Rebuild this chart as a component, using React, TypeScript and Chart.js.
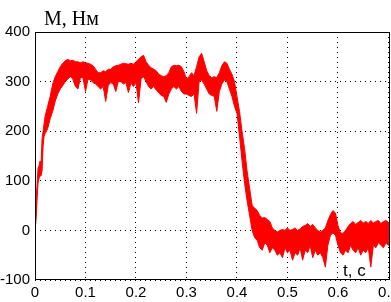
import React, { useEffect, useRef } from "react";
import { Chart, registerables } from "chart.js";

Chart.register(...registerables);

const time = [
  0, 0.002, 0.004, 0.006, 0.008, 0.01, 0.012, 0.014, 0.016, 0.018, 0.02,
  0.025, 0.03, 0.035, 0.04, 0.045, 0.05, 0.055, 0.06, 0.065, 0.07, 0.075,
  0.08, 0.085, 0.09, 0.095, 0.1, 0.105, 0.11, 0.115, 0.12, 0.125, 0.13,
  0.135, 0.14, 0.145, 0.15, 0.155, 0.16, 0.165, 0.17, 0.175, 0.18, 0.185,
  0.19, 0.195, 0.2, 0.205, 0.21, 0.215, 0.22, 0.225, 0.23, 0.235, 0.24,
  0.245, 0.25, 0.255, 0.26, 0.265, 0.27, 0.275, 0.28, 0.285, 0.29, 0.295,
  0.3, 0.305, 0.31, 0.315, 0.32, 0.325, 0.33, 0.335, 0.34, 0.345, 0.35,
  0.355, 0.36, 0.365, 0.37, 0.375, 0.38, 0.385, 0.39, 0.395, 0.4, 0.405,
  0.41, 0.415, 0.42, 0.425, 0.43, 0.435, 0.44, 0.445, 0.45, 0.455, 0.46,
  0.465, 0.47, 0.475, 0.48, 0.485, 0.49, 0.495, 0.5, 0.505, 0.51, 0.515,
  0.52, 0.525, 0.53, 0.535, 0.54, 0.545, 0.55, 0.555, 0.56, 0.565, 0.57,
  0.575, 0.58, 0.585, 0.59, 0.595, 0.6, 0.605, 0.61, 0.615, 0.62, 0.625,
  0.63, 0.635, 0.64, 0.645, 0.65, 0.655, 0.66, 0.665, 0.67, 0.675, 0.68,
  0.685, 0.69, 0.695, 0.7, 0.703,
];

const torqueUpper = [
  5, 60, 90, 125, 130, 140, 135, 185, 200, 215, 230,
  250, 270, 295, 310, 320, 330, 337, 342, 345, 342, 343,
  340, 340, 338, 340, 338, 337, 335, 332, 325, 318, 318,
  322, 320, 325, 325, 330, 332, 333, 335, 337, 336, 335,
  337, 335, 340, 345, 350, 353, 340, 333, 328, 325, 322,
  315, 312, 310, 312, 318, 330, 333, 332, 333, 330, 320,
  305, 310, 318, 312, 330, 350, 357, 340, 322, 312, 308,
  310, 308, 318, 332, 340, 337, 325, 315, 300, 270, 240,
  200, 165, 120, 85, 50, 45, 40, 30, 25, 26, 22,
  18, 5, 0, -3, 0, 2, 0, 5, 0, 2, 5,
  0, 3, 8, 10, 14, 8, 12, 5, 0, -3, 0,
  5, 20, 32, 40, 35, 10, -5, -6, 0, 8, 14,
  18, 12, 16, 20, 15, 18, 14, 20, 15, 18, 20,
  14, 18, 20, 16, 18,
];

const torqueLower = [
  0, 20, 60, 95, 105, 110, 110, 120, 170, 190, 195,
  205, 225, 240, 260, 275, 285, 292, 300, 305, 310, 305,
  290, 285, 308, 308, 280, 305, 303, 298, 295, 290, 285,
  290, 260, 292, 298, 295, 280, 300, 300, 295, 298, 278,
  297, 290, 298, 257, 305, 310, 300, 290, 285, 290, 283,
  278, 272, 270, 258, 275, 285, 290, 285, 290, 280, 275,
  275, 272, 270, 275, 236, 300, 303, 295, 285, 275, 272,
  270, 240, 280, 295, 303, 300, 285, 270, 250, 236, 190,
  140, 95, 60, 30, 0, -15, -20, -35, -40, -25, -30,
  -45, -35, -40, -50, -45, -55, -35, -45, -40, -60, -45,
  -50, -35, -60, -40, -45, -30, -55, -40, -50, -45, -55,
  -74, -30, -10, -5, -10, -30, -45, -50, -40, -45, -30,
  -40, -45, -35, -50, -40, -45, -35, -74, -30, -35, -25,
  -30, -35, -25, -30, -28,
];

const xTicks = [0, 0.1, 0.2, 0.3, 0.4, 0.5, 0.6, 0.7];
const yTicks = [-100, 0, 100, 200, 300, 400];

const yLabel = "M, Нм";
const xLabel = "t, c";

export default function App() {
  const canvasRef = useRef<HTMLCanvasElement | null>(null);

  useEffect(() => {
    const canvas = canvasRef.current;
    if (!canvas) return;

    const framePlugin = {
      id: "framePlugin",
      afterDraw(chart: any) {
        const { ctx, chartArea } = chart;
        ctx.save();
        ctx.strokeStyle = "#000";
        ctx.lineWidth = 1;
        ctx.strokeRect(
          chartArea.left + 0.5,
          chartArea.top + 0.5,
          chartArea.right - chartArea.left - 1,
          chartArea.bottom - chartArea.top - 1
        );
        ctx.fillStyle = "#000";
        ctx.textBaseline = "alphabetic";
        ctx.textAlign = "left";
        ctx.font = "20px 'Liberation Serif', 'DejaVu Serif', serif";
        ctx.fillText(yLabel, 44, 25);
        ctx.font = "17px 'Liberation Sans', Arial, sans-serif";
        ctx.fillText(xLabel, 343, 276);
        ctx.restore();
      },
    };

    const chart = new Chart(canvas, {
      type: "line",
      data: {
        datasets: [
          {
            data: time.map((t, i) => ({ x: t, y: torqueUpper[i] })),
            borderColor: "#ff0000",
            backgroundColor: "#ff0000",
            borderWidth: 1,
            pointRadius: 0,
            fill: "+1",
            tension: 0,
          },
          {
            data: time.map((t, i) => ({ x: t, y: torqueLower[i] })),
            borderColor: "#ff0000",
            backgroundColor: "#ff0000",
            borderWidth: 1,
            pointRadius: 0,
            fill: false,
            tension: 0,
          },
        ],
      },
      options: {
        animation: false,
        responsive: false,
        maintainAspectRatio: false,
        layout: { padding: { top: 32, right: 1, bottom: 0, left: 0 } },
        plugins: {
          legend: { display: false },
          tooltip: { enabled: false },
          title: { display: false },
        },
        scales: {
          x: {
            type: "linear",
            min: 0,
            max: 0.703,
            afterBuildTicks: (scale: any) => {
              scale.ticks = xTicks.map((v) => ({ value: v }));
            },
            afterFit: (scale: any) => {
              scale.height = 22;
              scale.paddingLeft = 0;
              scale.paddingRight = 0;
            },
            grid: { color: "#000", lineWidth: 1, drawTicks: false },
            border: { display: false, dash: [1, 4] },
            ticks: {
              color: "#000",
              padding: 4,
              maxRotation: 0,
              autoSkip: false,
              font: { family: "'Liberation Sans', Arial, sans-serif", size: 15 },
              callback: (v: any) => String(Number(v)),
            },
          },
          y: {
            type: "linear",
            min: -100,
            max: 400,
            afterBuildTicks: (scale: any) => {
              scale.ticks = yTicks.map((v) => ({ value: v }));
            },
            afterFit: (scale: any) => {
              scale.width = 35;
              scale.paddingTop = 0;
              scale.paddingBottom = 0;
            },
            grid: { color: "#000", lineWidth: 1, drawTicks: false },
            border: { display: false, dash: [1, 4] },
            ticks: {
              color: "#000",
              padding: 5,
              autoSkip: false,
              font: { family: "'Liberation Sans', Arial, sans-serif", size: 15 },
              callback: (v: any) => String(Number(v)),
            },
          },
        },
      },
      plugins: [framePlugin],
    });

    return () => chart.destroy();
  }, []);

  return (
    <div
      style={{
        position: "fixed",
        left: 0,
        top: 0,
        width: 391,
        height: 302,
        background: "#fff",
      }}
    >
      <canvas ref={canvasRef} width={391} height={302} style={{ width: 391, height: 302 }} />
    </div>
  );
}
